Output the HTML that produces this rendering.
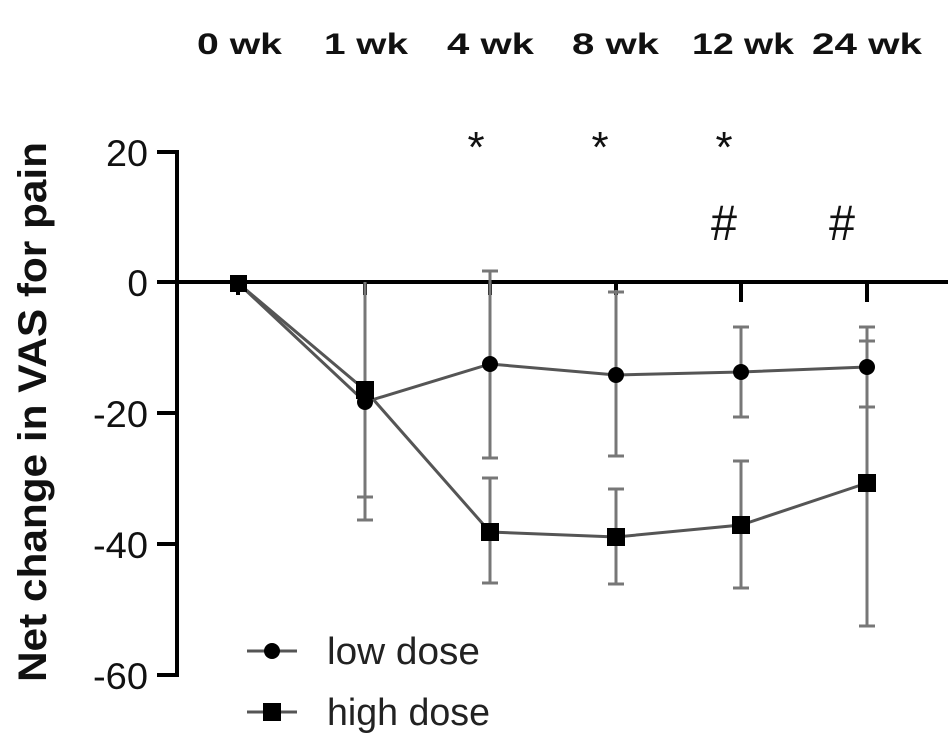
<!DOCTYPE html>
<html><head><meta charset="utf-8"><style>html,body{margin:0;padding:0;background:#fff}svg{display:block}</style></head>
<body>
<svg width="948" height="755" viewBox="0 0 948 755" xmlns="http://www.w3.org/2000/svg" font-family="Liberation Sans, Arial, sans-serif">
<rect width="948" height="755" fill="#fff"/>
<!-- top labels -->
<g font-weight="bold" font-size="30" fill="#111">
<text x="197" y="54" textLength="85" lengthAdjust="spacingAndGlyphs">0 wk</text>
<text x="324" y="54" textLength="84" lengthAdjust="spacingAndGlyphs">1 wk</text>
<text x="447" y="54" textLength="87" lengthAdjust="spacingAndGlyphs">4 wk</text>
<text x="572" y="54" textLength="87" lengthAdjust="spacingAndGlyphs">8 wk</text>
<text x="692" y="54" textLength="102" lengthAdjust="spacingAndGlyphs">12 wk</text>
<text x="812" y="54" textLength="110" lengthAdjust="spacingAndGlyphs">24 wk</text>
</g>
<!-- significance marks -->
<g font-size="44" fill="#111" text-anchor="middle">
<text x="476" y="162">*</text><text x="600" y="162">*</text><text x="724" y="162">*</text>
<text x="724" y="240" font-size="50" textLength="26" lengthAdjust="spacingAndGlyphs">#</text><text x="842" y="240" font-size="50" textLength="26" lengthAdjust="spacingAndGlyphs">#</text>
</g>
<!-- y label -->
<text transform="translate(46,412) rotate(-90)" text-anchor="middle" font-weight="bold" font-size="40" fill="#111" textLength="540" lengthAdjust="spacingAndGlyphs">Net change in VAS for pain</text>
<!-- tick labels -->
<g font-size="37" fill="#111" text-anchor="end">
<text x="148" y="166" textLength="42" lengthAdjust="spacingAndGlyphs">20</text>
<text x="148" y="296">0</text>
<text x="148" y="427" textLength="55" lengthAdjust="spacingAndGlyphs">-20</text>
<text x="148" y="558" textLength="55" lengthAdjust="spacingAndGlyphs">-40</text>
<text x="148" y="689" textLength="55" lengthAdjust="spacingAndGlyphs">-60</text>
</g>
<!-- axes -->
<g stroke="#000" stroke-width="4" fill="none">
<polyline points="157,152 177,152 177,675 157,675"/>
<line x1="157" y1="282" x2="948" y2="282"/>
<line x1="157" y1="413" x2="177" y2="413"/>
<line x1="157" y1="544" x2="177" y2="544"/>
<line x1="238" y1="282" x2="238" y2="295"/>
<line x1="365" y1="282" x2="365" y2="295"/>
<line x1="490" y1="282" x2="490" y2="295"/>
<line x1="616" y1="282" x2="616" y2="295"/>
<line x1="741" y1="282" x2="741" y2="302"/>
<line x1="867" y1="282" x2="867" y2="302"/>
</g>
<!-- error bars -->
<g stroke="#777" stroke-width="3" fill="none">
<path d="M365 282V520M357 497H373M357 520H373"/>
<path d="M490 271V458M482 271H498M482 458H498"/>
<path d="M490 478V583M482 478H498M482 583H498"/>
<path d="M616 290V456M608 292H624M608 456H624"/>
<path d="M616 489V584M608 489H624M608 584H624"/>
<path d="M741 327V417M733 327H749M733 417H749"/>
<path d="M741 461V588M733 461H749M733 588H749"/>
<path d="M867 327V626M859 327H875M859 341H875M859 407H875M859 626H875"/>
</g>
<!-- lines -->
<g stroke="#555" stroke-width="3" fill="none">
<polyline points="238,283 365,402 490,364 616,375 741,372 867,367"/>
<polyline points="238,283 365,390 490,532 616,537 741,525 867,483"/>
</g>
<!-- markers -->
<g fill="#000">
<circle cx="365" cy="402" r="8"/><circle cx="490" cy="364" r="8"/><circle cx="616" cy="375" r="8"/><circle cx="741" cy="372" r="8"/><circle cx="867" cy="367" r="8"/>
<rect x="230" y="275" width="17" height="17"/>
<rect x="356" y="381" width="18" height="18"/>
<rect x="481" y="523" width="18" height="18"/>
<rect x="607" y="528" width="18" height="18"/>
<rect x="732" y="516" width="18" height="18"/>
<rect x="858" y="474" width="18" height="18"/>
</g>
<!-- legend -->
<g stroke="#555" stroke-width="3"><line x1="247" y1="651" x2="297" y2="651"/><line x1="247" y1="712" x2="297" y2="712"/></g>
<circle cx="272" cy="651" r="8" fill="#000"/>
<rect x="263" y="703" width="18" height="18" fill="#000"/>
<g font-size="38" fill="#222">
<text x="327" y="664" textLength="153" lengthAdjust="spacingAndGlyphs">low dose</text>
<text x="327" y="725" textLength="163" lengthAdjust="spacingAndGlyphs">high dose</text>
</g>
</svg>
</body></html>
